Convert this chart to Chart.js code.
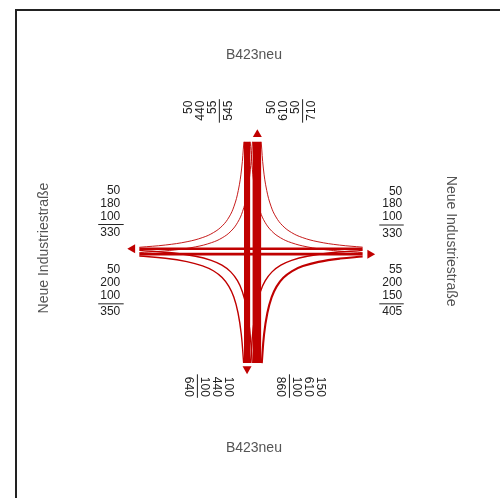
<!DOCTYPE html>
<html>
<head>
<meta charset="utf-8">
<script src="https://cdn.jsdelivr.net/npm/chart.js@4"></script>
<style>
html, body { margin: 0; padding: 0; background: #fff; }
#wrap { position: relative; width: 500px; height: 498px; overflow: hidden; }
#frame { position: absolute; left: 15px; top: 9px; width: 600px; height: 600px;
         border-left: 2px solid #222; border-top: 2px solid #222; }
canvas { position: absolute; left: 0; top: 0; }
</style>
</head>
<body>
<div id="wrap">
  <div id="frame"></div>
  <canvas id="chart" width="500" height="498"></canvas>
</div>
<script>
// Knotenstrombelastung, Kfz/h per movement
var fromNorth = [50, 440, 55];   // to W, S, E
var fromSouth = [100, 610, 150]; // to W, N, E
var fromWest = [50, 200, 100];   // to N, E, S
var fromEast = [50, 180, 100];   // to N, W, S
var titleNS = 'B423neu';
var titleWE = 'Neue Industriestraße';

// movement table built from the arrays above
var flows = {
  NW: fromNorth[0], NS: fromNorth[1], NE: fromNorth[2],
  SW: fromSouth[0], SN: fromSouth[1], SE: fromSouth[2],
  WN: fromWest[0], WE: fromWest[1], WS: fromWest[2],
  EN: fromEast[0], EW: fromEast[1], ES: fromEast[2]
};

var RED = '#c00000';
var PX_PER_VEH = 0.014;
function width(v) { return Math.max(v * PX_PER_VEH, 0.9); }

// layout of the junction (in canvas units)
var cx = 252, cy = 251.5;
var laneL = cx - 5, laneR = cx + 5, laneU = cy - 2.8, laneD = cy + 2.8;
var endTop = 139.5, endBottom = 365.5, endLeft = 137, endRight = 365;

// through movements
var through = [
  { v: flows.NS, pts: [{x: laneL, y: endTop}, {x: laneL, y: endBottom}] },
  { v: flows.SN, pts: [{x: laneR, y: endBottom}, {x: laneR, y: endTop}] },
  { v: flows.WE, pts: [{x: endLeft, y: laneD}, {x: endRight, y: laneD}] },
  { v: flows.EW, pts: [{x: endRight, y: laneU}, {x: endLeft, y: laneU}] }
];

// lane each arm uses for incoming / outgoing traffic
var laneOf = {
  N: { inn: laneL, out: laneR, tin: flows.NS, tout: flows.SN },
  S: { inn: laneR, out: laneL, tin: flows.SN, tout: flows.NS },
  W: { inn: laneD, out: laneU, tin: flows.WE, tout: flows.EW },
  E: { inn: laneU, out: laneD, tin: flows.EW, tout: flows.WE }
};

function turnPath(from, to, v) {
  var vert = (from === 'N' || from === 'S') ? from : to;
  var horz = (from === 'W' || from === 'E') ? from : to;
  var w = width(v);
  var dx = horz === 'W' ? -1 : 1;
  var dy = vert === 'N' ? -1 : 1;
  var vl = laneOf[vert], hl = laneOf[horz];
  var vLane = vert === from ? vl.inn : vl.out;
  var vT = vert === from ? vl.tin : vl.tout;
  var hLane = horz === from ? hl.inn : hl.out;
  var hT = horz === from ? hl.tin : hl.tout;
  var xa = vLane + dx * (width(vT) / 2 + w / 2 - 0.3);
  var ya = hLane + dy * (width(hT) / 2 + w / 2 - 0.3);
  var yEnd = vert === 'N' ? endTop : endBottom;
  var xEnd = horz === 'W' ? endLeft : endRight;
  var lenV = Math.abs(yEnd - ya), lenH = Math.abs(xEnd - xa);
  var len = (lenV + lenH) / 2, m = 22;
  var e = m * m / (len - 2 * m), c = e * (len + e);
  var pts = [];
  [lenV, 80, 58, 42, 31, m].forEach(function (Y) {
    var X = Math.max(c / (Y + e) - e, 0);
    pts.push({ x: xa + dx * X, y: ya + dy * Y });
  });
  [31, 42, 58, 80, lenH].forEach(function (X) {
    var Y = Math.max(c / (X + e) - e, 0);
    pts.push({ x: xa + dx * X, y: ya + dy * Y });
  });
  if (vert !== from) pts.reverse();
  return pts;
}

var turns = [
  ['N', 'W'], ['N', 'E'], ['S', 'W'], ['S', 'E'],
  ['W', 'N'], ['W', 'S'], ['E', 'N'], ['E', 'S']
];

var datasets = [];
turns.forEach(function (t) {
  var v = flows[t[0] + t[1]];
  datasets.push({
    data: turnPath(t[0], t[1], v), showLine: true, tension: 0.4,
    borderColor: RED, borderWidth: width(v), pointRadius: 0, borderCapStyle: 'butt'
  });
});
through.forEach(function (t) {
  datasets.push({
    data: t.pts, showLine: true, borderColor: RED, borderWidth: width(t.v),
    pointRadius: 0, borderCapStyle: 'butt'
  });
});
// arrow heads on the outgoing lanes
datasets.push({
  data: [
    {x: laneR + 0.5, y: endTop - 7.5}, {x: laneL, y: endBottom + 6},
    {x: endLeft - 7, y: laneU}, {x: endRight + 7.5, y: laneD}
  ],
  pointStyle: 'triangle', pointRadius: 5.2, pointRotation: [0, 180, -90, 90],
  backgroundColor: RED, borderWidth: 0, showLine: false
});

function sum(a) { return a.reduce(function (s, x) { return s + x; }, 0); }

var groups = {
  Nin: [flows.NW, flows.NS, flows.NE],
  Nout: [flows.WN, flows.SN, flows.EN],
  Wout: [flows.NW, flows.EW, flows.SW],
  Win: [flows.WN, flows.WE, flows.WS],
  Ein: [flows.EN, flows.EW, flows.ES],
  Eout: [flows.NE, flows.WE, flows.SE],
  Sout: [flows.ES, flows.NS, flows.WS],
  Sin: [flows.SE, flows.SN, flows.SW]
};

var labelPlugin = {
  id: 'labels',
  afterDatasetsDraw: function (chart) {
    var ctx = chart.ctx, sx = chart.scales.x, sy = chart.scales.y;
    function X(v) { return sx.getPixelForValue(v); }
    function Y(v) { return sy.getPixelForValue(v); }
    function text(t, x, y, rot, align) {
      ctx.save();
      ctx.translate(X(x), Y(y));
      ctx.rotate(rot);
      ctx.textAlign = align;
      ctx.textBaseline = 'middle';
      ctx.fillText(t, 0, 0);
      ctx.restore();
    }
    function rule(x1, y1, x2, y2) {
      ctx.save();
      ctx.strokeStyle = '#222';
      ctx.lineWidth = 1;
      ctx.beginPath();
      ctx.moveTo(X(x1), Y(y1));
      ctx.lineTo(X(x2), Y(y2));
      ctx.stroke();
      ctx.restore();
    }
    // side groups, stacked horizontally
    function sideGroup(vals, xRight, yTop, ruleX1, ruleX2) {
      ctx.font = '12px "Liberation Sans", Arial, sans-serif';
      ctx.fillStyle = '#222';
      vals.forEach(function (v, i) { text(String(v), xRight, yTop + i * 13, 0, 'right'); });
      rule(ruleX1, yTop + 34.5, ruleX2, yTop + 34.5);
      text(String(sum(vals)), xRight, yTop + 43, 0, 'right');
    }
    // north/south groups, rotated text
    function vertGroup(vals, xFirst, step, yAnchor, rot, ruleY1, ruleY2) {
      ctx.font = '12px "Liberation Sans", Arial, sans-serif';
      ctx.fillStyle = '#222';
      vals.forEach(function (v, i) { text(String(v), xFirst + i * step, yAnchor, rot, 'right'); });
      var rx = xFirst + 2.6 * step;
      rule(rx, ruleY1, rx, ruleY2);
      text(String(sum(vals)), xFirst + 3.4 * step, yAnchor, rot, 'right');
    }
    sideGroup(groups.Wout, 117.5, 189.5, 95, 121);
    sideGroup(groups.Win, 117.5, 270.5, 95, 121);
    sideGroup(groups.Ein, 405.5, 190, 382, 407);
    sideGroup(groups.Eout, 405.5, 270.5, 382, 407);
    vertGroup(groups.Nin, 187, 12.2, 97.5, -Math.PI / 2, 96, 120);
    vertGroup(groups.Nout, 272, 12.2, 97.5, -Math.PI / 2, 96, 120);
    vertGroup(groups.Sout, 228, -12.2, 400, Math.PI / 2, 377, 401);
    vertGroup(groups.Sin, 322, -12.2, 400, Math.PI / 2, 377, 401);

    ctx.font = '14px "Liberation Sans", Arial, sans-serif';
    ctx.fillStyle = '#555';
    text(titleNS, 254, 51, 0, 'center');
    text(titleNS, 254, 452, 0, 'center');
    text(titleWE, 39.5, 248, -Math.PI / 2, 'center');
    text(titleWE, 455, 241, Math.PI / 2, 'center');
  }
};

new Chart(document.getElementById('chart').getContext('2d'), {
  type: 'scatter',
  data: { datasets: datasets },
  options: {
    responsive: false,
    animation: false,
    events: [],
    layout: { padding: 0 },
    plugins: { legend: { display: false }, tooltip: { enabled: false } },
    scales: {
      x: { type: 'linear', min: 0, max: 500, display: false },
      y: { type: 'linear', min: 0, max: 498, reverse: true, display: false }
    }
  },
  plugins: [labelPlugin]
});
</script>
</body>
</html>
